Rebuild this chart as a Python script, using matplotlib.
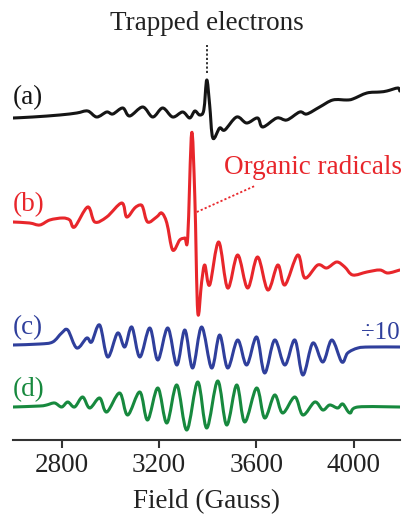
import matplotlib
matplotlib.use("Agg")
import matplotlib.pyplot as plt
import numpy as np
from matplotlib.path import Path
from matplotlib.patches import PathPatch

plt.rcParams["font.family"] = ["Liberation Serif", "DejaVu Serif"]

# Field (Gauss) / relative intensity
FIELD_A = [2600, 2681, 2792, 2862, 2907, 2944, 2985, 3010, 3051, 3079, 3133, 3174,
           3215, 3256, 3297, 3326, 3347, 3367, 3384, 3396, 3408, 3421, 3449, 3470,
           3519, 3560, 3605, 3626, 3684, 3725, 3778, 3807, 3860, 3914, 3971, 3996,
           4054, 4107, 4136, 4181, 4189]
SIG_A = [0, 1, 3, 5, 7, 1, 6, 4, 10, 2, 11, 1,
         10, 1, 6, 0, 7, 3, 8, 38, 13, -20, -10, -12,
         1, -5, 0, -9, 0, -2, 6, 4, 11, 18, 18, 19,
         25, 26, 27, 30, 27]

FIELD_B = [2600, 2668, 2710, 2751, 2804, 2833, 2853, 2907, 2936, 2985, 3047, 3067,
           3100, 3121, 3133, 3153, 3190, 3211, 3232, 3256, 3285, 3306, 3318, 3334,
           3347, 3359, 3375, 3388, 3408, 3445, 3482, 3523, 3564, 3605, 3647, 3688,
           3717, 3770, 3799, 3852, 3889, 3930, 3963, 3996, 4054, 4107, 4140, 4189]
SIG_B = [0, -1, -3, 2, 4, 2, -5, 15, 0, 5, 19, 5,
         14, 17, 15, 0, 5, 9, -1, -28, -18, -16, -15, 89,
         25, -90, -60, -43, -63, -20, -66, -33, -66, -35, -68, -43,
         -63, -33, -56, -43, -46, -40, -45, -53, -50, -48, -51, -48]

FIELD_C = [2600, 2710, 2763, 2800, 2825, 2862, 2903, 2923, 2956, 2989, 3030, 3059,
           3088, 3121, 3162, 3195, 3236, 3273, 3306, 3338, 3375, 3416, 3449, 3482,
           3523, 3560, 3601, 3634, 3675, 3717, 3758, 3791, 3832, 3873, 3910, 3951,
           3975, 4017, 4066, 4189]
SIG_C = [0, 1, 3, 12, 15, -3, 7, 3, 20, -12, 12, -2,
         18, -12, 17, -15, 17, -20, 15, -23, 18, -23, 10, -23,
         5, -20, 8, -28, 5, -20, 5, -30, 2, -17, 5, -17,
         -8, -3, -2, -2]

FIELD_D = [2600, 2710, 2738, 2771, 2800, 2825, 2853, 2886, 2915, 2956, 2985, 3038,
           3071, 3121, 3153, 3195, 3232, 3273, 3314, 3359, 3396, 3441, 3478, 3519,
           3552, 3601, 3634, 3675, 3708, 3758, 3791, 3840, 3873, 3901, 3934, 3955,
           3984, 4017, 4189]
SIG_D = [0, 1, 2, 4, 0, 5, 0, 10, -1, 9, -5, 14,
         -8, 15, -13, 19, -16, 22, -23, 25, -21, 26, -18, 22,
         -15, 19, -11, 12, -6, 10, -8, 5, -3, 2, -1, 3,
         -6, 0, 0]

TICKS = [2800, 3200, 3600, 4000]
OFFSETS = {"a": 322, "b": 218, "c": 95, "d": 33}
COLORS = {"a": "#151515", "b": "#e8262b", "c": "#2f3f9c", "d": "#17893e"}


def smooth_path(xs, ys):
    """Catmull-Rom curve through the given points, as cubic Bezier segments."""
    pts = np.column_stack([xs, ys]).astype(float)
    n = len(pts)
    verts = [pts[0]]
    codes = [Path.MOVETO]
    for i in range(n - 1):
        p0 = pts[max(i - 1, 0)]
        p1 = pts[i]
        p2 = pts[i + 1]
        p3 = pts[min(i + 2, n - 1)]
        verts += [p1 + (p2 - p0) / 6, p2 - (p3 - p1) / 6, p2]
        codes += [Path.CURVE4] * 3
    return Path(verts, codes)


def main():
    fig = plt.figure(figsize=(4.09, 5.17), dpi=100)
    ax = fig.add_axes([13 / 409, 77 / 517, 387 / 409, 440 / 517])

    series = [("a", FIELD_A, SIG_A), ("b", FIELD_B, SIG_B),
              ("c", FIELD_C, SIG_C), ("d", FIELD_D, SIG_D)]
    label_y = {"a": 342, "b": 235, "c": 112, "d": 50}
    for key, field, sig in series:
        y = np.asarray(sig, dtype=float) + OFFSETS[key]
        patch = PathPatch(smooth_path(field, y), facecolor="none",
                          edgecolor=COLORS[key], linewidth=2.2,
                          joinstyle="round", capstyle="round")
        ax.add_patch(patch)
        ax.text(2600, label_y[key], f"({key})", color=COLORS[key],
                fontsize=19.5, ha="left", va="center")

    # annotations
    ax.plot([3396, 3396], [367, 395], color="#222222", linestyle=(0, (1.2, 1.2)),
            linewidth=1.3)
    ax.text(3398, 416, "Trapped electrons", color="#222222", fontsize=19.5,
            ha="center", va="center")
    ax.plot([3355, 3593], [228, 254], color=COLORS["b"], linestyle=(0, (1.2, 1.2)),
            linewidth=1.3)
    ax.text(4200, 273, "Organic radicals", color=COLORS["b"], fontsize=19.5,
            ha="right", va="center", clip_on=False)
    ax.text(4189, 107, "÷10", color=COLORS["c"], fontsize=18,
            ha="right", va="center")

    ax.set_xlim(2600, 4190)
    ax.set_ylim(0, 440)
    for side in ["left", "right", "top"]:
        ax.spines[side].set_visible(False)
    ax.spines["bottom"].set_linewidth(1.5)
    ax.spines["bottom"].set_color("#333333")
    ax.set_yticks([])
    ax.set_xticks(TICKS)
    ax.tick_params(axis="x", direction="out", length=6, width=1.5, color="#333333",
                   labelsize=19.5, labelcolor="#222222", pad=3)
    ax.set_xlabel("Field (Gauss)", fontsize=19.5, color="#222222", labelpad=8)
    ax.patch.set_visible(False)

    fig.savefig("out.png", dpi=100)


if __name__ == "__main__":
    main()
